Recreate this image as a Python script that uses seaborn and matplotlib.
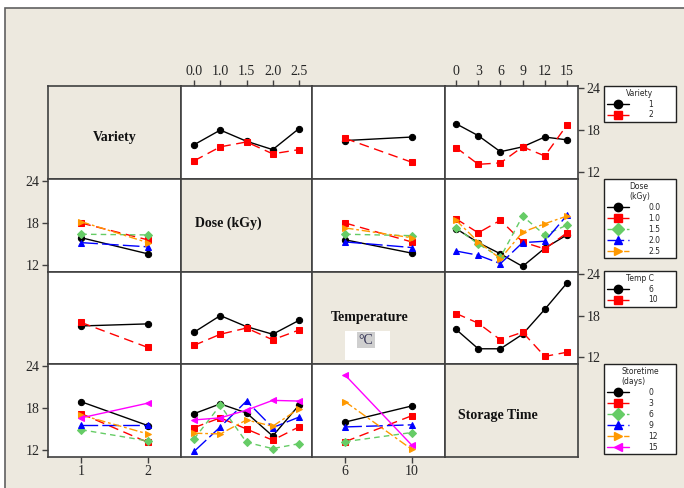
import numpy as np
import pandas as pd
import matplotlib.pyplot as plt
import seaborn as sns
from matplotlib.lines import Line2D
from matplotlib.patches import Rectangle

sns.set_style('white')
plt.rcParams['font.family'] = ['Liberation Serif', 'DejaVu Serif']

# factor levels
variety = ['1', '2']
dose = ['0.0', '1.0', '1.5', '2.0', '2.5']
temp = ['6', '10']
storage = ['0', '3', '6', '9', '12', '15']

# two-way means (rows = first factor, cols = second factor)
var_dose = [[15.9, 18.0, 16.4, 15.2, 18.2],
            [13.6, 15.6, 16.3, 14.6, 15.2]]
var_temp = [[16.5, 17.0],
            [16.8, 13.4]]
var_store = [[18.9, 17.2, 14.9, 15.6, 17.0, 16.6],
             [15.5, 13.1, 13.3, 15.6, 14.3, 18.7]]
dose_temp = [[15.6, 13.7],
             [18.0, 15.3],
             [16.4, 16.2],
             [15.3, 14.5],
             [17.3, 15.9]]
dose_store = [[17.2, 15.2, 13.6, 11.8, 14.4, 16.3],
              [18.6, 16.6, 18.4, 15.3, 14.3, 16.6],
              [17.3, 15.0, 13.1, 19.0, 16.3, 17.7],
              [14.0, 13.4, 12.2, 15.2, 15.4, 19.1],
              [18.4, 15.3, 12.9, 16.7, 17.9, 19.0]]
temp_store = [[16.0, 13.2, 13.2, 15.3, 18.9, 22.7],
              [18.3, 16.9, 14.5, 15.6, 12.1, 12.7]]

levels = [variety, dose, temp, storage]
names = ['Variety', 'Dose (kGy)', 'Temperature', 'Storage Time']
leg_titles = ['Variety', 'Dose\n(kGy)', 'Temp C', 'Storetime\n(days)']
tables = {(0, 1): var_dose, (0, 2): var_temp, (0, 3): var_store,
          (1, 2): dose_temp, (1, 3): dose_store, (2, 3): temp_store}

colors = ['black', '#FF0000', '#66CC66', '#0000FF', '#FF9900', '#FF00FF']
markers = ['o', 's', 'D', '^', '>', '<']
styles = ['-', (0, (7, 4)), (0, (4, 3)), (0, (12, 3)), (0, (6, 2, 2, 2)), '-']

beige = '#EDE9DF'
edge = '#404040'


def get_table(i, j):
    if (i, j) in tables:
        return np.array(tables[(i, j)])
    return np.array(tables[(j, i)]).T


fig = plt.figure(figsize=(6.84, 4.88), dpi=100)
fig.patches.append(Rectangle((5 / 684, -0.2), 1.2, 1.2 - 8 / 488, transform=fig.transFigure,
                             facecolor=beige, edgecolor='#606060', lw=1.2, zorder=-10))

cols = [48, 181, 312, 445, 578]
rows = [86, 179, 272, 364, 457]

for i in range(4):
    for j in range(4):
        ax = fig.add_axes([cols[j] / 684, 1 - rows[i + 1] / 488,
                           (cols[j + 1] - cols[j]) / 684, (rows[i + 1] - rows[i]) / 488])
        for s in ax.spines.values():
            s.set_visible(True)
            s.set_color(edge)
            s.set_linewidth(1.2)
        if i == j:
            ax.set_facecolor(beige)
            ax.set_xticks([])
            ax.set_yticks([])
            ax.set_xlim(0, 1)
            ax.set_ylim(0, 1)
            pos = {0: (0.5, 0.45), 1: (0.36, 0.52), 2: (0.43, 0.51), 3: (0.40, 0.45)}[i]
            ax.text(pos[0], pos[1], names[i], ha='center', va='center',
                    fontsize=10, fontweight='bold', color='#111111')
            if i == 2:
                ax.add_patch(Rectangle((33 / 133, 4 / 92), 45 / 133, 29 / 92,
                                       facecolor='white', edgecolor='none'))
                ax.text(54 / 133, 24 / 92, '°C', ha='center', va='center', fontsize=10,
                        color='#333355', bbox=dict(facecolor='#CFCFCF', edgecolor='none', pad=1))
            continue

        ax.set_facecolor('white')
        t = get_table(i, j)
        rows_i, cols_j = levels[i], levels[j]
        df = pd.DataFrame([(a, b, t[ia, jb]) for ia, a in enumerate(rows_i)
                           for jb, b in enumerate(cols_j)], columns=['trace', 'x', 'y'])
        n = len(rows_i)
        sns.pointplot(data=df, x='x', y='y', hue='trace', order=cols_j, hue_order=rows_i,
                      palette=colors[:n], markers=markers[:n], linestyles=styles[:n],
                      errorbar=None, legend=False, ax=ax, markersize=4.5, linewidth=1)
        ax.set_xlim(-0.5, len(cols_j) - 0.5)
        ax.set_ylim(11.0, 24.3)
        ax.set_xlabel('')
        ax.set_ylabel('')
        ax.set_xticks(range(len(cols_j)))
        ax.set_xticklabels(cols_j)
        ax.set_yticks([12, 18, 24])
        ax.tick_params(bottom=False, top=False, left=False, right=False,
                       labelbottom=False, labeltop=False, labelleft=False, labelright=False,
                       labelsize=10, length=4, width=1, color=edge, pad=2)
        if i == 3 and j in (0, 2):
            ax.tick_params(bottom=True, labelbottom=True)
        if i == 0 and j in (1, 3):
            ax.tick_params(top=True, labeltop=True)
        if j == 0 and i in (1, 3):
            ax.tick_params(left=True, labelleft=True)
        if j == 3 and i in (0, 2):
            ax.tick_params(right=True, labelright=True)

# legends to the right of each row
leg_top = [86, 179, 271, 364]
for i in range(4):
    n = len(levels[i])
    handles = [Line2D([], [], color=colors[k], marker=markers[k], linestyle=styles[k],
                      markersize=6, lw=1) for k in range(n)]
    leg = fig.legend(handles, levels[i], title=leg_titles[i], loc='upper left',
                     bbox_to_anchor=(604 / 684, 1 - leg_top[i] / 488, 72 / 684, 0.0),
                     mode='expand', frameon=True, fancybox=False, edgecolor='#222222',
                     facecolor='white', framealpha=1.0,
                     handlelength=2.9, handletextpad=2.6, labelspacing=0.25,
                     borderpad=0.35, borderaxespad=0.0,
                     prop={'family': 'DejaVu Sans', 'size': 5.5})
    leg.get_frame().set_linewidth(1.0)
    leg.get_title().set_family('DejaVu Sans')
    leg.get_title().set_fontsize(5.5)

fig.savefig('out.png', dpi=100, facecolor='white')
